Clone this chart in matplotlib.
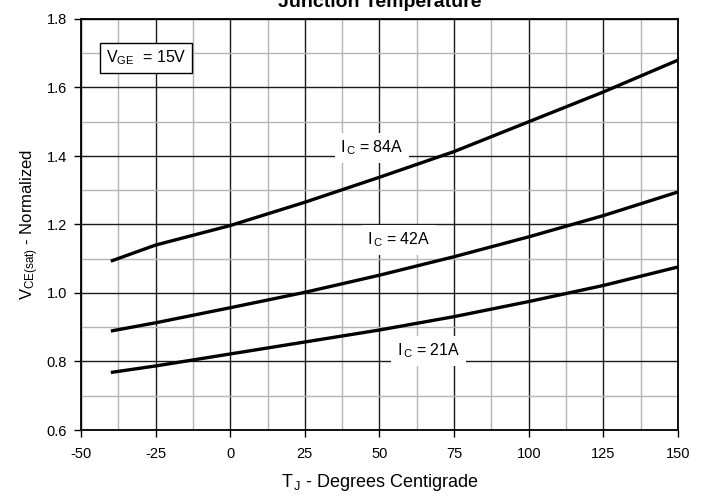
import numpy as np
import matplotlib
matplotlib.use("Agg")
import matplotlib.pyplot as plt

plt.rcParams['font.family'] = ['Liberation Sans', 'DejaVu Sans']
plt.rcParams['mathtext.fontset'] = 'custom'
plt.rcParams['mathtext.rm'] = 'Liberation Sans'
plt.rcParams['mathtext.it'] = 'Liberation Sans'

temps = [-40, -25, 0, 25, 50, 75, 100, 125, 150]
vce_84a = [1.093, 1.14, 1.197, 1.265, 1.338, 1.413, 1.5, 1.587, 1.68]
vce_42a = [0.889, 0.913, 0.957, 1.002, 1.052, 1.106, 1.164, 1.226, 1.295]
vce_21a = [0.768, 0.787, 0.822, 0.857, 0.892, 0.931, 0.975, 1.022, 1.076]

xticks = [-50, -25, 0, 25, 50, 75, 100, 125, 150]
yticks = [0.6, 0.8, 1.0, 1.2, 1.4, 1.6, 1.8]

fig = plt.figure(figsize=(7.11, 4.98), dpi=100)
ax = fig.add_axes([81/711, 1-430/498, 597/711, 411/498])

ax.set_xlim(-50, 150)
ax.set_ylim(0.6, 1.8)
ax.set_xticks(xticks)
ax.set_yticks(yticks)
ax.set_xticklabels([str(t) for t in xticks])
ax.set_yticklabels(["%.1f" % t for t in yticks])
ax.set_xticks(np.arange(-37.5, 150, 25), minor=True)
ax.set_yticks(np.arange(0.7, 1.8, 0.2), minor=True)
ax.tick_params(which='major', direction='out', length=5, width=1, labelsize=10.5)
ax.tick_params(axis='x', which='major', pad=7)
ax.tick_params(axis='y', which='major', pad=5)
ax.tick_params(which='minor', length=0)
ax.grid(which='minor', color='#b4b4b4', linewidth=1)
ax.grid(which='major', color='#1a1a1a', linewidth=1)
ax.set_axisbelow(True)
for s in ax.spines.values():
    s.set_linewidth(1.3)

for v in [vce_84a, vce_42a, vce_21a]:
    ax.plot(temps, v, color='black', linewidth=2.4, solid_capstyle='butt')

box = dict(facecolor='white', edgecolor='none', pad=4)
ax.text(47.5, 1.423, r'I$_{\,\mathrm{C}}$ = 84A', ha='center', va='center', fontsize=11.5, bbox=box)
ax.text(56.5, 1.155, r'I$_{\,\mathrm{C}}$ = 42A', ha='center', va='center', fontsize=11.5, bbox=box)
ax.text(66.5, 0.831, r'I$_{\,\mathrm{C}}$ = 21A', ha='center', va='center', fontsize=11.5, bbox=box)

ax.text(-28.3, 1.686, r'V$_\mathrm{GE}$  = 15V', ha='center', va='center', fontsize=11.5,
        bbox=dict(facecolor='white', edgecolor='black', linewidth=1, pad=4))

ax.set_xlabel(r'T$_{\,\mathrm{J}}$ - Degrees Centigrade', fontsize=13, labelpad=8)
ax.set_ylabel(r'V$_\mathrm{CE(sat)}$ - Normalized', fontsize=12, labelpad=4)

fig.text(380/711, 1-7/498, 'Junction Temperature', ha='center', va='baseline',
         fontsize=14, fontweight='bold')

fig.savefig("out.png", dpi=100)
